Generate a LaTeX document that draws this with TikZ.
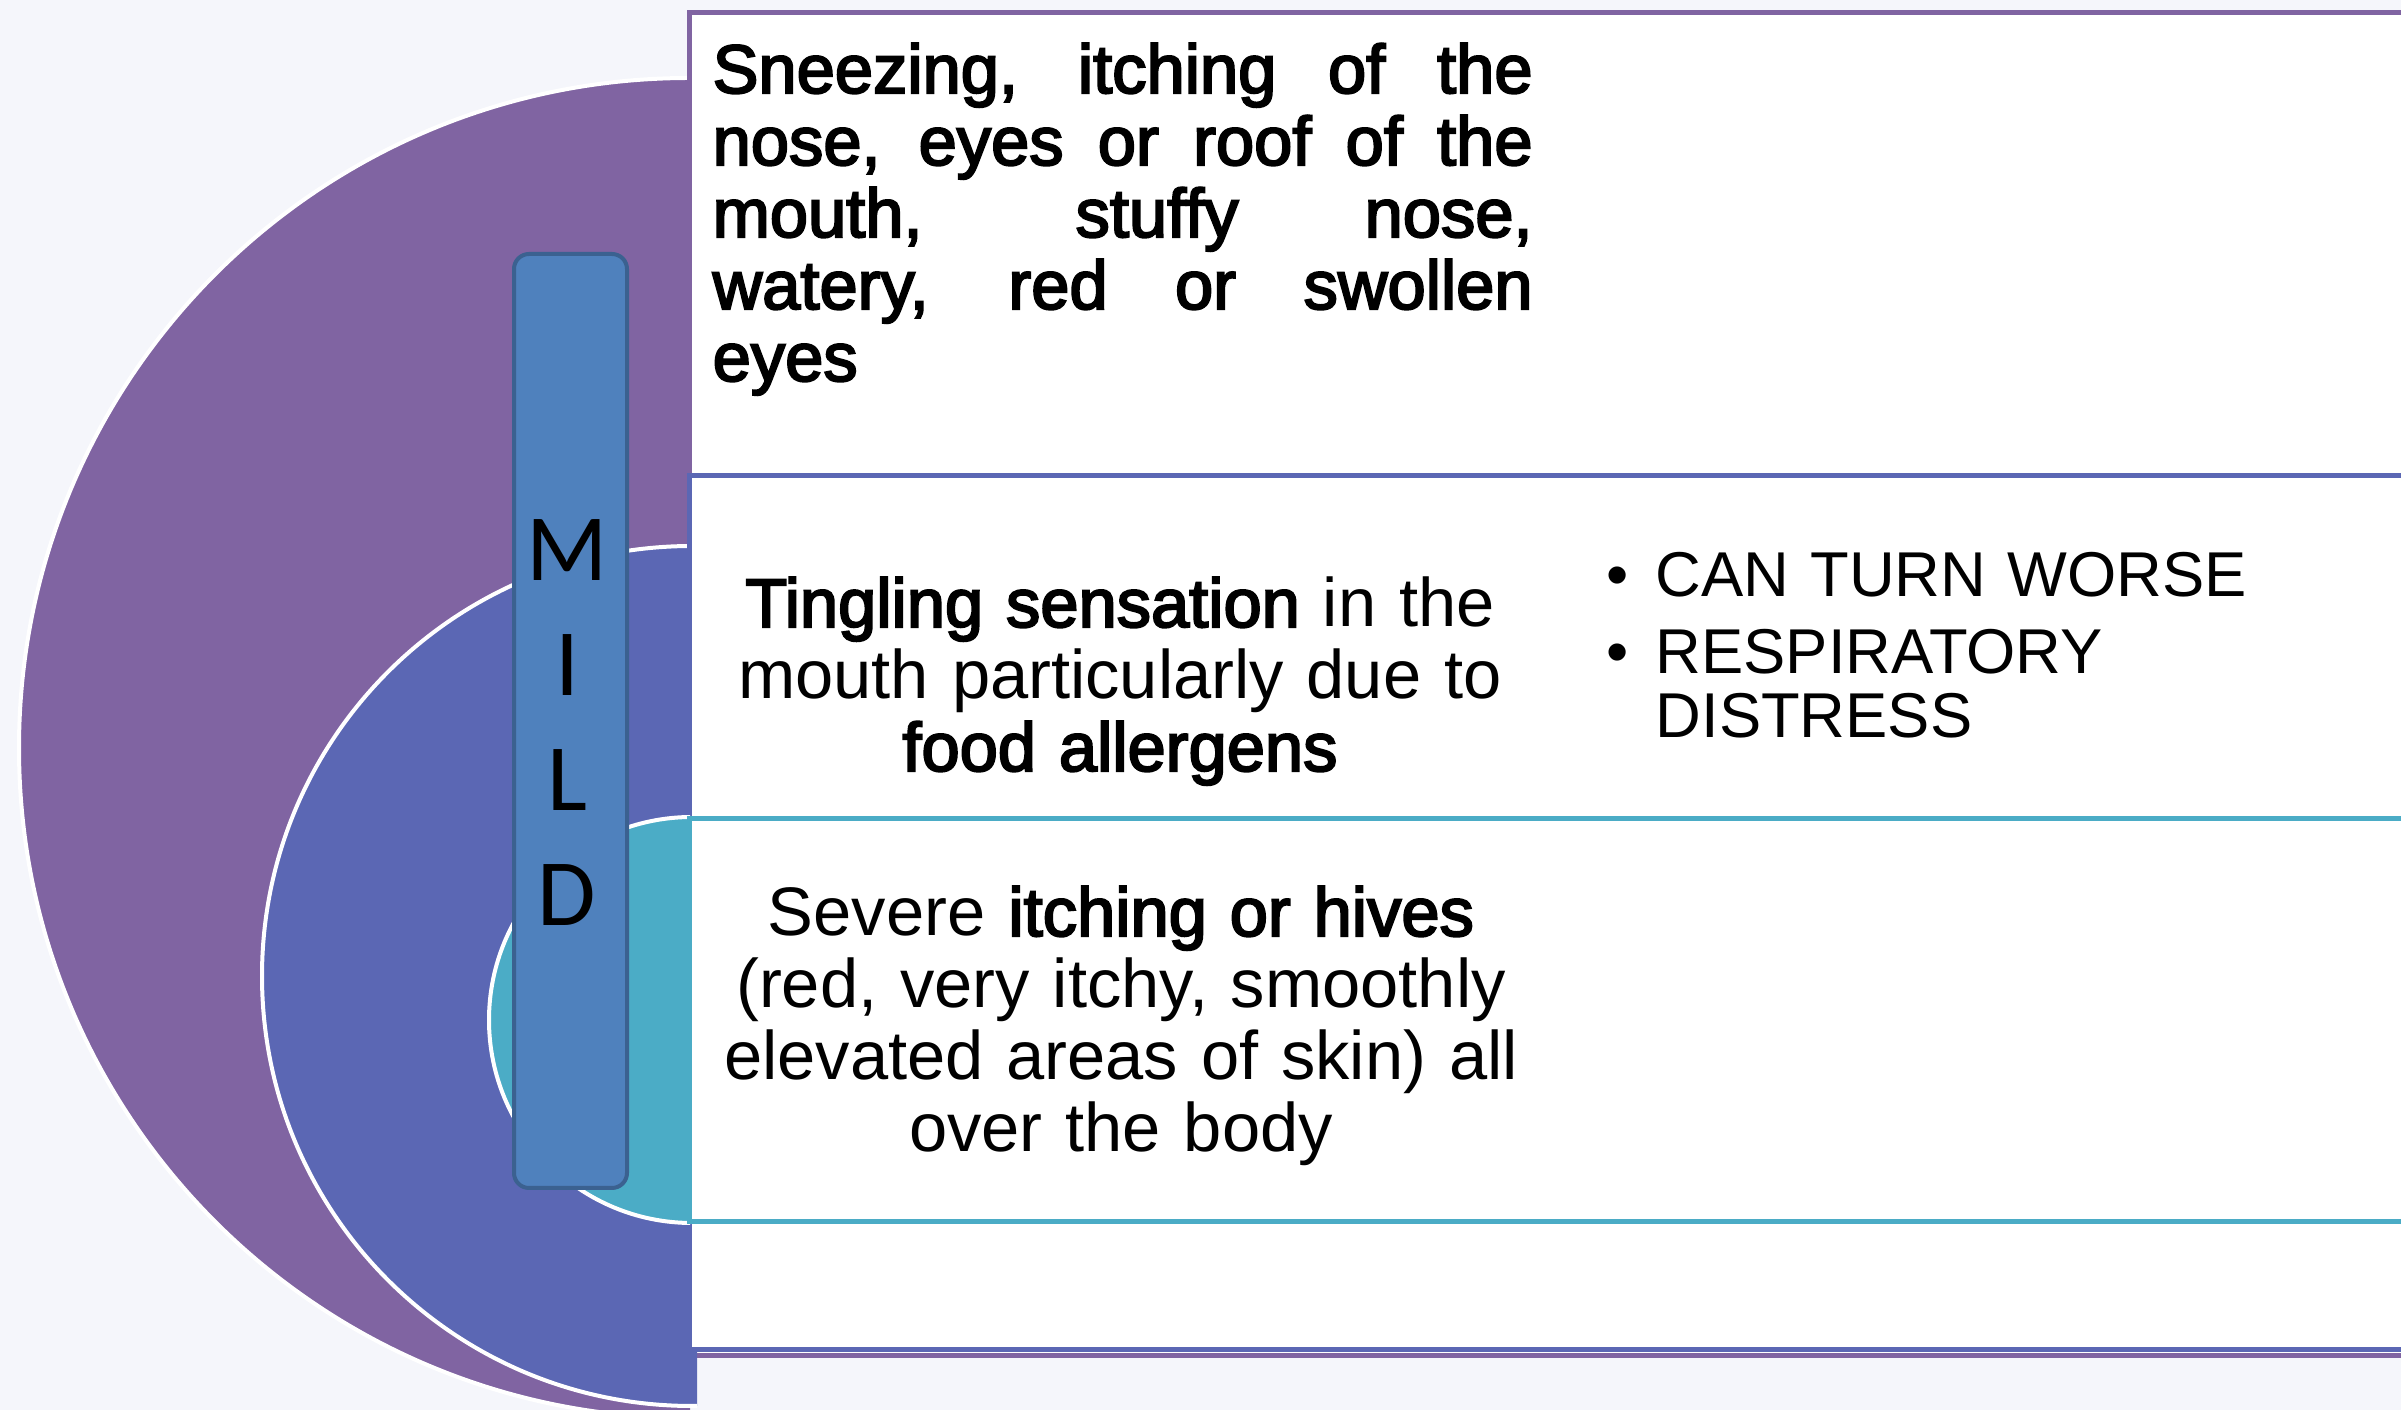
\documentclass[tikz,border=0pt]{standalone}
\usepackage{fontspec}
\setmainfont{Liberation Sans}[BoldFont={Liberation Sans}, BoldFeatures={FakeBold=3}]
\newfontfamily\mildfont{Carlito}
\definecolor{bgpage}{HTML}{F5F6FB}
\definecolor{purp}{HTML}{8064A2}
\definecolor{blu}{HTML}{5B67B4}
\definecolor{teal}{HTML}{4BACC6}
\definecolor{mildfill}{HTML}{4F81BD}
\definecolor{mildline}{HTML}{3B6190}
\newcommand\sympsize{\fontsize{20.6}{21.6}\selectfont}
\hbadness=10000
\tikzset{
	disc/.style={fill=#1, draw=white, line width=1.2pt},
	band/.style={fill=white, draw=#1, line width=1.5pt},
	symptom/.style={inner sep=0pt, text width=#1, font=\sympsize},
	letter/.style={inner sep=0pt, anchor=base, font=\mildfont\fontsize{28.5}{28.5}\selectfont}
}

\begin{document}
\begin{tikzpicture}[x=0.3pt, y=-0.3pt]
		\useasboundingbox (0,0) rectangle (2401,1410);
		\fill[bgpage] (0,0) rectangle (2401,1410);
		\begin{scope}
			\clip (0,0) rectangle (690,1410);
			\draw[disc=purp] (689,748) circle (670);
		\end{scope}
		\draw[band=purp] (689.5,13) rectangle (2430,1356);
		\begin{scope}
			\clip (0,0) rectangle (697,1410);
			\draw[disc=blu] (692,976) circle (430);
		\end{scope}
		\draw[band=blu] (689.5,476) rectangle (2430,1350);
		\begin{scope}
			\clip (0,0) rectangle (690,1410);
			\draw[disc=teal] (692,1020) circle (203);
		\end{scope}
		\draw[band=teal] (689.5,819) rectangle (2430,1222);
		\node[draw=mildline, fill=mildfill, line width=1.2pt, rounded corners=4.5pt,
			minimum width=33.9pt, minimum height=280.2pt, inner sep=0pt] (mild) at (570.5,721) {};
		\foreach \ch [count=\i from 0] in {M,I,L,D}
			\node[letter] (mild\i) at (567,581+115*\i) {\ch};
		\node[symptom=246pt, anchor=base west, align=justify, font=\sympsize\bfseries] (sneeze) at (712,93)
			{Sneezing, itching of the\linebreak nose, eyes or roof of the\linebreak mouth, stuffy nose,\linebreak watery, red or swollen\linebreak eyes};
		\node[symptom=260pt, anchor=base, align=center] (tingle) at (1120,627)
			{\textbf{Tingling sensation} in the\\ mouth particularly due to\\ \textbf{food allergens}};
		\node[symptom=260pt, anchor=base, align=center] (hives) at (1121,936)
			{Severe \textbf{itching or hives}\\ (red, very itchy, smoothly\\ elevated areas of skin) all\\ over the body};
		\node[inner sep=0pt, text width=240pt, anchor=base west, align=left, font=\fontsize{19}{19.2}\selectfont] (risk) at (1606,597)
			{\makebox[14.7pt][l]{\textbullet}CAN TURN WORSE\\[3.9pt]
			\makebox[14.7pt][l]{\textbullet}RESPIRATORY\\ \hspace*{14.7pt}DISTRESS};
	\end{tikzpicture}
\end{document}
